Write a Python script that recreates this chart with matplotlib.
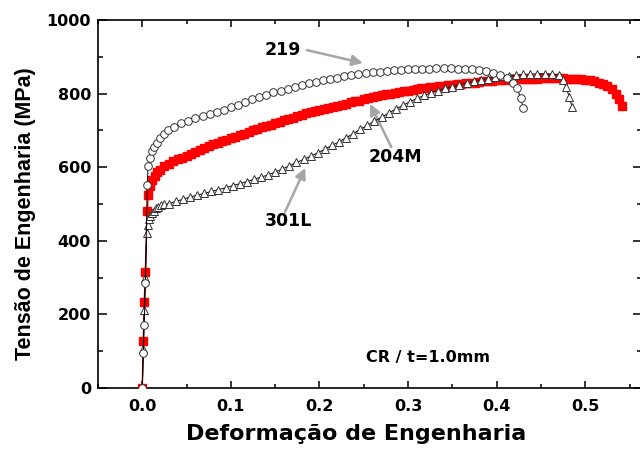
import matplotlib
matplotlib.use("Agg")
import matplotlib.pyplot as plt
from matplotlib.ticker import MultipleLocator

# ---------------- data ----------------
x219 = [0.0, 0.0012, 0.0022, 0.0035, 0.0055, 0.0065, 0.0085, 0.011, 0.0135, 0.0165,
        0.020, 0.024, 0.029, 0.036, 0.044, 0.052, 0.060, 0.068, 0.076, 0.084,
        0.092, 0.100, 0.108, 0.116, 0.124, 0.132, 0.140, 0.148, 0.156, 0.164,
        0.172, 0.180, 0.188, 0.196, 0.204, 0.212, 0.220, 0.228, 0.236, 0.244,
        0.252, 0.260, 0.268, 0.276, 0.284, 0.292, 0.300, 0.308, 0.316, 0.324,
        0.332, 0.340, 0.348, 0.356, 0.364, 0.372, 0.380, 0.388, 0.396, 0.404,
        0.412, 0.418, 0.423, 0.427, 0.430]
y219 = [0, 96, 171, 285, 552, 602, 626, 643, 655, 667,
        678, 689, 700, 710, 719, 726, 733, 739, 745, 750,
        756, 763, 770, 777, 784, 790, 797, 803, 808, 813,
        818, 823, 828, 832, 836, 840, 843, 847, 850, 853,
        856, 858, 860, 862, 864, 865, 866, 867, 868, 868,
        869, 869, 869, 868, 868, 867, 865, 862, 857, 851,
        843, 830, 815, 788, 761]

x204 = [0.0, 0.0011, 0.0022, 0.0034, 0.0056, 0.0068, 0.009, 0.0115, 0.014, 0.017,
        0.020, 0.025, 0.030, 0.035, 0.040, 0.045, 0.050, 0.055, 0.060, 0.065,
        0.070, 0.075, 0.080, 0.085, 0.090, 0.095, 0.100, 0.105, 0.110, 0.115,
        0.120, 0.125, 0.130, 0.135, 0.140, 0.145, 0.150, 0.155, 0.160, 0.165,
        0.170, 0.175, 0.180, 0.185, 0.190, 0.195, 0.200, 0.205, 0.210, 0.215,
        0.220, 0.225, 0.230, 0.235, 0.240, 0.245, 0.250, 0.255, 0.260, 0.265,
        0.270, 0.275, 0.280, 0.285, 0.290, 0.295, 0.300, 0.305, 0.310, 0.315,
        0.320, 0.325, 0.330, 0.335, 0.340, 0.345, 0.350, 0.355, 0.360, 0.365,
        0.370, 0.375, 0.380, 0.385, 0.390, 0.395, 0.400, 0.405, 0.410, 0.415,
        0.420, 0.425, 0.430, 0.435, 0.440, 0.445, 0.450, 0.455, 0.460, 0.465,
        0.470, 0.475, 0.480, 0.485, 0.490, 0.495, 0.500, 0.505, 0.510, 0.515,
        0.520, 0.525, 0.530, 0.535, 0.538, 0.541]
y204 = [0, 128, 234, 315, 481, 524, 550, 566, 577, 586,
        593, 602, 610, 616, 621, 626, 631, 635, 640, 646,
        652, 657, 662, 667, 671, 675, 679, 683, 687, 691,
        696, 700, 704, 708, 712, 716, 720, 724, 728, 732,
        735, 738, 742, 746, 749, 752, 755, 758, 761, 764,
        767, 770, 773, 776, 779, 781, 784, 787, 790, 793,
        796, 798, 800, 802, 804, 806, 808, 810, 812, 814,
        816, 817, 819, 820, 822, 823, 824, 826, 827, 828,
        829, 830, 832, 833, 834, 835, 836, 837, 838, 839,
        839, 840, 840, 841, 841, 841, 842, 842, 842, 842,
        842, 842, 841, 841, 840, 839, 838, 836, 833, 830,
        826, 821, 813, 798, 785, 766]

x301 = [0.0, 0.001, 0.002, 0.0035, 0.0050, 0.0060, 0.0075, 0.009, 0.011, 0.013,
        0.0155, 0.018, 0.021, 0.025, 0.030, 0.038, 0.046, 0.054, 0.062, 0.070,
        0.078, 0.086, 0.094, 0.102, 0.110, 0.118, 0.126, 0.134, 0.142, 0.150,
        0.158, 0.166, 0.174, 0.182, 0.190, 0.198, 0.206, 0.214, 0.222, 0.230,
        0.238, 0.246, 0.254, 0.262, 0.270, 0.278, 0.286, 0.294, 0.302, 0.310,
        0.318, 0.326, 0.334, 0.342, 0.350, 0.358, 0.366, 0.374, 0.382, 0.390,
        0.398, 0.406, 0.414, 0.422, 0.430, 0.438, 0.446, 0.454, 0.462, 0.470,
        0.475, 0.478, 0.482, 0.485]
y301 = [0, 105, 212, 299, 421, 443, 458, 468, 476, 482,
        488, 492, 496, 499, 501, 507, 513, 519, 524, 529,
        534, 539, 544, 550, 555, 561, 567, 573, 579, 587,
        595, 604, 613, 621, 630, 639, 649, 659, 669, 680,
        691, 703, 714, 725, 736, 747, 758, 768, 778, 787,
        795, 802, 808, 814, 819, 824, 829, 834, 838, 841,
        844, 847, 849, 851, 852, 853, 854, 854, 853, 850,
        838, 818, 791, 764]

x_ticks = [0.0, 0.1, 0.2, 0.3, 0.4, 0.5]
x_tick_labels = ["0.0", "0.1", "0.2", "0.3", "0.4", "0.5"]
y_ticks = [0, 200, 400, 600, 800, 1000]
y_tick_labels = ["0", "200", "400", "600", "800", "1000"]

# ---------------- figure ----------------
fig = plt.figure(figsize=(6.4, 4.5), dpi=100)
ax = fig.add_axes([98 / 640, 1 - 388 / 450, 544 / 640, 368 / 450])

ax.plot(x204, y204, color="red", lw=1.0, marker="s", ms=5.2,
        mfc="red", mec="red", zorder=3)
ax.plot(x301, y301, color="black", lw=0.7, marker="^", ms=5.5,
        mfc="white", mec="#333333", mew=0.7, zorder=4)
ax.plot(x219, y219, color="black", lw=0.7, marker="o", ms=5.5,
        mfc="white", mec="#333333", mew=0.7, zorder=5)

ax.set_xlim(-0.05, 0.564)
ax.set_ylim(0, 1000)

ax.set_xticks(x_ticks)
ax.set_xticklabels(x_tick_labels)
ax.set_yticks(y_ticks)
ax.set_yticklabels(y_tick_labels)
ax.xaxis.set_minor_locator(MultipleLocator(0.05))
ax.yaxis.set_minor_locator(MultipleLocator(100))

ax.tick_params(which="both", direction="in", top=True, right=True, width=1.1)
ax.tick_params(axis="y", which="major", length=6.5, pad=5)
ax.tick_params(axis="y", which="minor", length=3.5)
ax.tick_params(axis="x", which="major", length=5, pad=8)
ax.tick_params(axis="x", which="minor", length=3)
for lab in ax.get_xticklabels() + ax.get_yticklabels():
    lab.set_fontfamily("DejaVu Sans")
    lab.set_fontweight("bold")
    lab.set_fontsize(11.5)
for sp in ax.spines.values():
    sp.set_linewidth(1.2)

ax.set_xlabel("Deformação de Engenharia", fontsize=16, fontweight="bold",
              family="DejaVu Sans")
ax.xaxis.set_label_coords(0.475, -0.098)
ax.set_ylabel("Tensão de Engenharia (MPa)", fontsize=15.5, fontweight="bold",
              family="Liberation Sans")
ax.yaxis.set_label_coords(-0.114, 0.473)

# annotations
gray = "#a6a6a6"
ap = dict(arrowstyle="-|>", color=gray, lw=1.8, mutation_scale=16,
          shrinkA=0, shrinkB=0)
ax.annotate("", xy=(0.249, 883), xytext=(0.186, 918), arrowprops=ap)
ax.annotate("", xy=(0.257, 772), xytext=(0.281, 655), arrowprops=ap)
ax.annotate("", xy=(0.184, 598), xytext=(0.161, 478), arrowprops=ap)

tkw = dict(fontsize=12.5, fontweight="bold", family="DejaVu Sans",
           ha="center", va="center")
ax.text(0.159, 918, "219", **tkw)
ax.text(0.2856, 628, "204M", **tkw)
ax.text(0.165, 454, "301L", **tkw)
ax.text(0.322, 84, "CR / t=1.0mm", fontsize=11.5, fontweight="bold",
        family="DejaVu Sans", ha="center", va="center")

fig.savefig("out.png", dpi=100)
